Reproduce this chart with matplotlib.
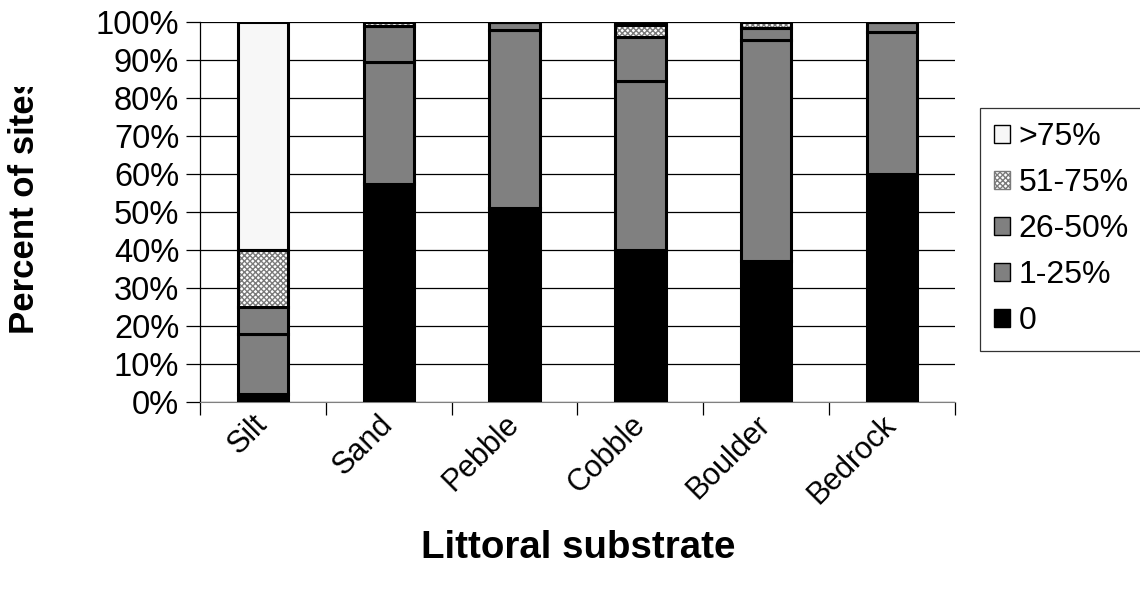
import matplotlib
matplotlib.use("Agg")
import matplotlib.pyplot as plt
import numpy as np
from matplotlib.transforms import Bbox
from matplotlib.patches import Patch

plt.rcParams['font.family'] = ['Liberation Sans', 'DejaVu Sans']

substrates = ["Silt", "Sand", "Pebble", "Cobble", "Boulder", "Bedrock"]
series_names = ["0", "1-25%", "26-50%", "51-75%", ">75%"]
pct_0 = [2, 57.5, 51, 40, 37, 60]
pct_1_25 = [16, 31.9, 47, 44.5, 58.3, 37.4]
pct_26_50 = [7, 9.6, 2, 11.5, 3.1, 2.6]
pct_51_75 = [15, 1, 0, 3.2, 1.6, 0]
pct_gt75 = [60, 0, 0, 0.8, 0, 0]
y_ticks = list(range(0, 101, 10))

series = [pct_0, pct_1_25, pct_26_50, pct_51_75, pct_gt75]
faces = ["#000000", "#808080", "#808080", "#ffffff", "#f7f7f7"]
hatches = [None, None, None, "xxxxxx", None]

fig = plt.figure(figsize=(11.4, 5.95), dpi=100)
ax = fig.add_axes([200/1140, 1 - 402/595, 755/1140, 380/595])

x = np.arange(len(substrates))
bottom = np.zeros(len(substrates))
for vals, fc, h in zip(series, faces, hatches):
    vals = np.array(vals, dtype=float)
    if h:
        ax.bar(x, vals, 0.4, bottom=bottom, color="#ffffff", hatch=h,
               edgecolor="#7a7a7a", linewidth=0, zorder=3)
        ax.bar(x, vals, 0.4, bottom=bottom, fill=False,
               edgecolor="black", linewidth=2.2, zorder=4)
    else:
        ax.bar(x, vals, 0.4, bottom=bottom, color=fc,
               edgecolor="black", linewidth=2.2, zorder=3)
    bottom += vals

ax.set_xlim(-0.5, 5.5)
ax.set_ylim(0, 100)
ax.set_yticks(y_ticks)
ax.set_yticklabels([f"{t}%" for t in y_ticks], fontsize=23.5)
ax.yaxis.grid(True, color="black", linewidth=0.9, zorder=0)
ax.tick_params(axis="y", length=10, width=0.9, pad=5)

ax.set_xticks(x)
ax.set_xticklabels(substrates, fontsize=22, rotation=45, ha="right",
                   va="center", rotation_mode="anchor")
ax.set_xticks(np.arange(-0.5, 6, 1), minor=True)
ax.tick_params(axis="x", which="major", length=0, pad=13)
ax.tick_params(axis="x", which="minor", length=9, width=0.9)

for s in ["top", "right"]:
    ax.spines[s].set_visible(False)
ax.spines["bottom"].set_color("#808080")
ax.spines["left"].set_linewidth(0.9)

fig.text(578/1140, 1 - 548/595, "Littoral substrate", fontsize=27.7,
         fontweight="bold", ha="center", va="center")
ylab = fig.text(25/1140, 1 - 205/595, "Percent of sites", rotation=90,
                fontsize=25, fontweight="bold", ha="center", va="center")
ylab.set_clip_on(True)
ylab.set_clip_box(Bbox([[0, 0], [1140, 595 - 87]]))

handles = [
    Patch(facecolor="#f7f7f7", edgecolor="black", label=">75%"),
    Patch(facecolor="#ffffff", edgecolor="#7a7a7a", hatch="xxxxxx", label="51-75%"),
    Patch(facecolor="#808080", edgecolor="black", label="26-50%"),
    Patch(facecolor="#808080", edgecolor="black", label="1-25%"),
    Patch(facecolor="#000000", edgecolor="black", label="0"),
]
leg = fig.legend(handles=handles, loc="upper left",
                 bbox_to_anchor=(980/1140, 1 - 108/595), fontsize=23,
                 frameon=True, fancybox=False, edgecolor="black",
                 handlelength=0.5, handleheight=0.5, handletextpad=0.25,
                 labelspacing=0.5, borderpad=0.45, borderaxespad=0)
leg.get_frame().set_linewidth(0.9)

fig.savefig("out.png", dpi=100)
